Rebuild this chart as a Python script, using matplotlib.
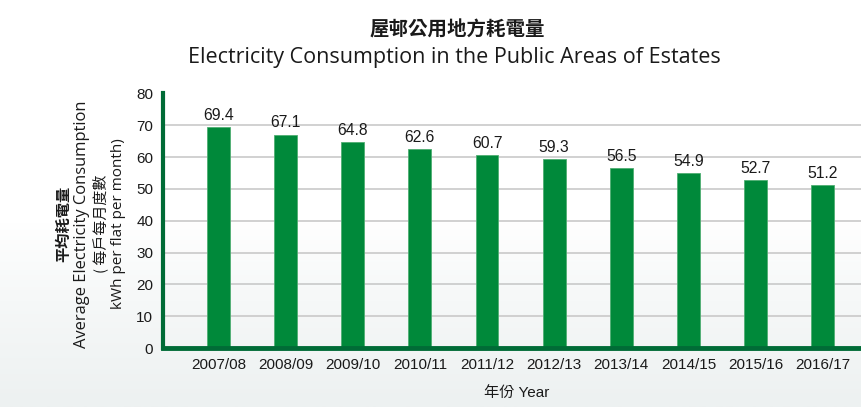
import numpy as np
import matplotlib.pyplot as plt
from matplotlib.colors import LinearSegmentedColormap

# Datos
years = ["2007/08", "2008/09", "2009/10", "2010/11", "2011/12",
         "2012/13", "2013/14", "2014/15", "2015/16", "2016/17"]
consumption = [69.4, 67.1, 64.8, 62.6, 60.7, 59.3, 56.5, 54.9, 52.7, 51.2]
y_ticks = [0, 10, 20, 30, 40, 50, 60, 70, 80]

W, H = 861, 407
fig = plt.figure(figsize=(W / 100, H / 100), dpi=100)

# Fondo con degradado (blanco arriba, gris claro abajo)
bg = fig.add_axes([0, 0, 1, 1], zorder=-10)
rows = np.linspace(0, 1, 200)
grad = np.clip((rows - 0.55) / 0.45, 0, 1) ** 0.8
cmap = LinearSegmentedColormap.from_list("bg", ["#ffffff", "#edf1f1"])
bg.imshow(grad[:, None], aspect="auto", cmap=cmap, vmin=0, vmax=1,
          extent=[0, 1, 0, 1], origin="upper")
bg.axis("off")

ax = fig.add_axes([163 / W, 1 - 348 / H, 1 - 163 / W, (348 - 93.5) / H])
ax.set_facecolor("none")

x = np.arange(len(years))
bars = ax.bar(x, consumption, width=0.34, color="#00893a",
              edgecolor="#4fae72", linewidth=0.6, zorder=3)

for xi, v in zip(x, consumption):
    ax.annotate(f"{v:.1f}", (xi, v), xytext=(0, 3), textcoords="offset points",
                ha="center", va="bottom", fontsize=11.3,
                family="Liberation Sans", color="#1a1a1a")

ax.set_xlim(-0.826, 9.57)
ax.set_ylim(0, 80)
ax.set_yticks(y_ticks)
ax.set_xticks(x)
ax.set_xticklabels(years)
ax.tick_params(length=0, labelsize=11, colors="#1a1a1a")
ax.tick_params(axis="y", pad=7)
ax.tick_params(axis="x", pad=7)
for lab in ax.get_xticklabels() + ax.get_yticklabels():
    lab.set_family("Liberation Sans")

ax.grid(axis="y", color="#c9c9c9", linewidth=1.2, zorder=0)
ax.set_axisbelow(True)
for s in ["top", "right"]:
    ax.spines[s].set_visible(False)
ax.spines["left"].set_color("#006b36")
ax.spines["left"].set_linewidth(3)
ax.spines["bottom"].set_color("#006b36")
ax.spines["bottom"].set_linewidth(3.5)
ax.spines["bottom"].set_zorder(5)

# Títulos
fig.text(457 / W, 1 - 30 / H, "屋邨公用地方耗電量", ha="center", va="center",
         fontsize=14, fontweight="bold", family="Noto Sans CJK TC", color="#1a1a1a")
fig.text(454 / W, 1 - 57 / H, "Electricity Consumption in the Public Areas of Estates",
         ha="center", va="center", fontsize=15.5, family="Open Sans", color="#1a1a1a")

# Etiqueta del eje Y (cuatro líneas)
yc = 1 - 224 / H
fig.text(63 / W, yc, "平均耗電量", rotation=90, ha="center", va="center",
         fontsize=11, fontweight="bold", family="Noto Sans CJK TC", color="#1a1a1a")
fig.text(82 / W, yc, "Average Electricity Consumption", rotation=90, ha="center",
         va="center", fontsize=11.9, family="Open Sans", color="#1a1a1a")
fig.text(100 / W, yc, "( 每戶每月度數", rotation=90, ha="center", va="center",
         fontsize=10.8, family="Noto Sans CJK TC", color="#1a1a1a")
fig.text(118 / W, yc, "kWh per flat per month)", rotation=90, ha="center",
         va="center", fontsize=11, family="Open Sans", color="#1a1a1a")

# Etiqueta del eje X
fig.text(517 / W, 1 - 393 / H, "年份 Year", ha="center", va="center",
         fontsize=11, family=["Liberation Sans", "Noto Sans CJK TC"], color="#1a1a1a")

fig.savefig("out.png", dpi=100)
